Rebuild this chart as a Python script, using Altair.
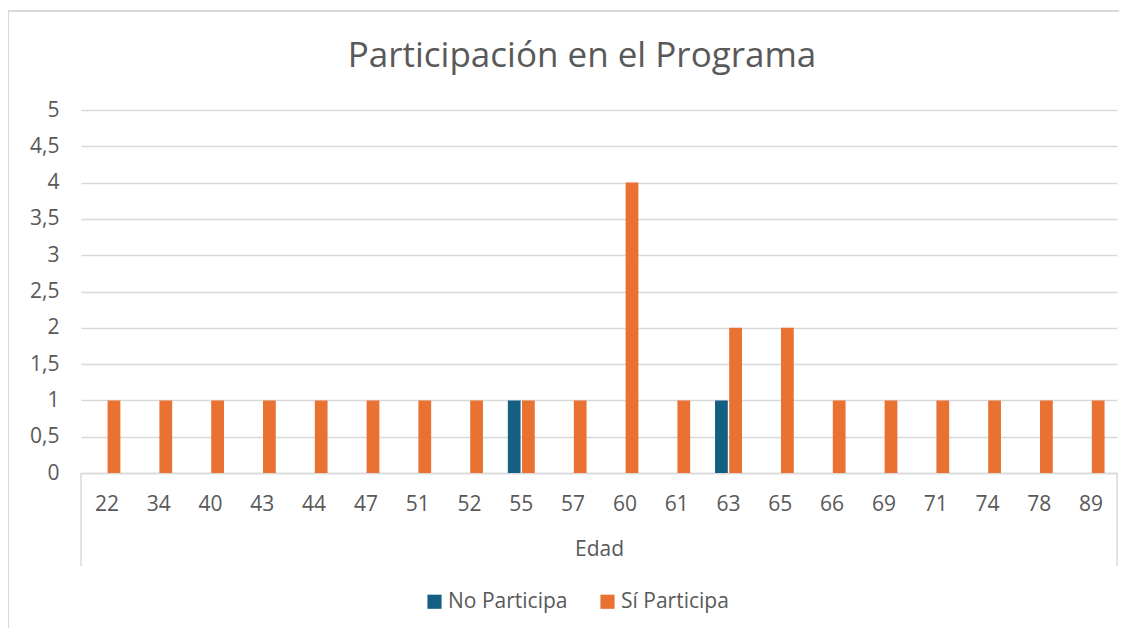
import altair as alt
import pandas as pd

edades = ["22", "34", "40", "43", "44", "47", "51", "52", "55", "57",
          "60", "61", "63", "65", "66", "69", "71", "74", "78", "89"]
no_participa = [0, 0, 0, 0, 0, 0, 0, 0, 1, 0, 0, 0, 1, 0, 0, 0, 0, 0, 0, 0]
si_participa = [1, 1, 1, 1, 1, 1, 1, 1, 1, 1, 4, 1, 2, 2, 1, 1, 1, 1, 1, 1]
series = ["No Participa", "Sí Participa"]
colores = ["#156082", "#E97132"]
y_ticks = [0, 0.5, 1, 1.5, 2, 2.5, 3, 3.5, 4, 4.5, 5]
titulo = "Participación en el Programa"

rows = []
for e, n, s in zip(edades, no_participa, si_participa):
    if n:
        rows.append({"Edad": e, "Serie": series[0], "Valor": n})
    if s:
        rows.append({"Edad": e, "Serie": series[1], "Valor": s})
df = pd.DataFrame(rows)

FONT = "Open Sans"
GREY = "#595959"
LINE = "#d9d9d9"
W, H = 1036, 363

bars = alt.Chart(df).mark_bar().encode(
    x=alt.X("Edad:N", sort=edades,
            scale=alt.Scale(domain=edades, paddingInner=0.48, paddingOuter=0.24),
            axis=alt.Axis(title="Edad", labelAngle=0, ticks=False, domainColor=LINE,
                          domainWidth=1.5, labelPadding=20, titlePadding=24,
                          labelFontSize=21, titleFontSize=21, labelColor=GREY,
                          titleColor=GREY, labelFont=FONT, titleFont=FONT,
                          titleFontWeight="normal")),
    xOffset=alt.XOffset("Serie:N", scale=alt.Scale(domain=series, paddingInner=0.1, paddingOuter=0)),
    y=alt.Y("Valor:Q", scale=alt.Scale(domain=[0, 5], nice=False),
            axis=alt.Axis(title=None, values=y_ticks, domain=False, ticks=False,
                          gridColor=LINE, gridWidth=1.5, labelPadding=22,
                          labelFontSize=21, labelColor=GREY, labelFont=FONT,
                          labelExpr="replace(toString(datum.value), '.', ',')")),
    color=alt.Color("Serie:N", scale=alt.Scale(domain=series, range=colores),
                    legend=alt.Legend(title=None, orient="none", direction="horizontal",
                                      legendX=343, legendY=481, symbolType="square",
                                      symbolSize=200, symbolStrokeWidth=0,
                                      labelFontSize=21, labelColor=GREY, labelFont=FONT,
                                      columnPadding=29, labelOffset=3)),
)

box_df = pd.DataFrame({"px": [0, W]})
box = alt.Chart(box_df).mark_rule(color=LINE, strokeWidth=1.5).encode(
    x=alt.X("px:Q", scale=None),
    y=alt.value(H), y2=alt.value(H + 93),
)

border_v = alt.Chart(pd.DataFrame({"px": [-73]})).mark_rule(color=LINE, strokeWidth=2).encode(
    x=alt.X("px:Q", scale=None),
    y=alt.value(-99), y2=alt.value(H + 160),
)
border_h = alt.Chart(pd.DataFrame({"py": [-99]})).mark_rule(color=LINE, strokeWidth=2).encode(
    y=alt.Y("py:Q", scale=None),
    x=alt.value(-73), x2=alt.value(W + 10),
)

title = alt.Chart(pd.DataFrame({"t": [titulo]})).mark_text(
    fontSize=35, color=GREY, font=FONT, align="center", baseline="alphabetic"
).encode(text="t:N", x=alt.value(501), y=alt.value(-43))

chart = alt.layer(bars, box, border_v, border_h, title).properties(
    width=W, height=H,
    autosize="none",
    padding={"left": 73, "top": 102, "right": 2, "bottom": 155},
).configure_view(stroke=None)

chart.save("out.html", embed_options={"renderer": "svg", "actions": False})
